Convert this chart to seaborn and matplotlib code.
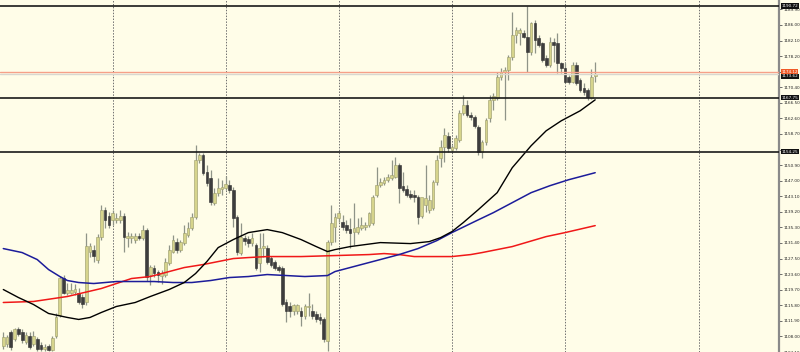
import matplotlib
matplotlib.use("Agg")
import matplotlib.pyplot as plt
import matplotlib.transforms as mtransforms
import seaborn as sns

# candle data, oldest first
opens = [1105.50, 1106.00, 1109.00, 1107.25, 1109.75, 1109.00, 1106.50, 1108.00, 1106.00, 1107.25,
         1105.75, 1104.75, 1105.50, 1104.50, 1108.00, 1113.25, 1122.75, 1119.00, 1119.00, 1119.25,
         1119.00, 1117.75, 1116.50, 1129.25, 1129.75, 1127.25, 1133.00, 1139.75, 1138.25, 1137.25,
         1137.25, 1137.25, 1138.25, 1132.75, 1132.75, 1132.25, 1133.00, 1132.75, 1134.75, 1123.50,
         1125.25, 1124.25, 1123.25, 1123.50, 1126.50, 1129.25, 1131.75, 1129.75, 1131.50, 1133.50,
         1135.25, 1138.00, 1152.25, 1153.50, 1149.25, 1147.75, 1141.50, 1144.00, 1145.00, 1145.25,
         1146.00, 1144.75, 1138.00, 1129.00, 1132.75, 1132.50, 1131.50, 1131.00, 1126.50, 1130.25,
         1130.25, 1127.75, 1126.75, 1125.50, 1125.25, 1116.50, 1115.50, 1114.25, 1114.25, 1114.25,
         1113.00, 1115.25, 1114.25, 1113.50, 1112.75, 1112.25, 1106.75, 1131.75, 1135.50, 1137.75,
         1136.75, 1136.00, 1135.00, 1134.25, 1134.25, 1135.25, 1135.50, 1136.00, 1136.50, 1143.50,
         1146.00, 1146.50, 1147.25, 1147.75, 1148.00, 1151.00, 1145.75, 1145.00, 1143.75, 1143.25,
         1143.00, 1138.25, 1141.00, 1139.75, 1140.25, 1146.75, 1152.75, 1155.50, 1158.25, 1154.75,
         1155.25, 1157.25, 1164.00, 1166.00, 1163.50, 1163.00, 1160.50, 1154.25, 1156.75, 1162.75,
         1167.25, 1167.75, 1173.00, 1174.25, 1174.75, 1178.00, 1183.50, 1184.00, 1184.00, 1183.00,
         1179.25, 1186.50, 1182.75, 1181.50, 1177.75, 1176.00, 1181.75, 1181.50, 1176.50, 1175.25,
         1173.00, 1171.75, 1176.00, 1172.25, 1170.25, 1169.75, 1167.75, 1173.25]
highs = [1109.00, 1108.25, 1109.50, 1110.00, 1110.25, 1109.75, 1109.00, 1109.00, 1109.25, 1107.75,
         1106.50, 1106.00, 1106.00, 1108.00, 1113.75, 1123.25, 1123.50, 1121.50, 1121.50, 1121.25,
         1120.25, 1118.50, 1134.00, 1131.50, 1131.00, 1133.75, 1141.00, 1140.50, 1139.25, 1139.75,
         1139.00, 1139.75, 1139.00, 1134.25, 1134.00, 1134.00, 1134.00, 1136.00, 1135.25, 1126.00,
         1126.00, 1124.75, 1124.75, 1127.75, 1131.00, 1133.50, 1132.75, 1132.25, 1136.00, 1136.75,
         1139.00, 1156.00, 1154.00, 1154.00, 1151.00, 1149.75, 1145.25, 1147.75, 1147.25, 1148.25,
         1147.25, 1145.50, 1138.50, 1136.50, 1133.50, 1133.25, 1134.00, 1131.50, 1134.00, 1134.00,
         1131.00, 1128.25, 1127.25, 1126.00, 1125.75, 1117.25, 1116.50, 1116.00, 1116.00, 1115.25,
         1116.00, 1119.00, 1116.00, 1114.25, 1113.75, 1112.75, 1132.25, 1141.00, 1139.00, 1139.75,
         1138.50, 1137.25, 1137.75, 1141.50, 1137.75, 1138.00, 1136.75, 1139.25, 1143.50, 1150.50,
         1147.75, 1148.00, 1148.75, 1152.25, 1153.00, 1151.50, 1149.25, 1146.00, 1144.75, 1144.75,
         1143.50, 1142.25, 1151.00, 1143.50, 1147.25, 1153.50, 1157.25, 1160.25, 1159.25, 1156.00,
         1158.50, 1164.75, 1168.50, 1167.25, 1164.25, 1163.50, 1161.00, 1157.25, 1162.75, 1168.50,
         1169.00, 1174.25, 1175.25, 1175.50, 1178.50, 1189.25, 1185.50, 1185.25, 1184.75, 1190.72,
         1186.75, 1187.25, 1183.50, 1181.75, 1178.50, 1183.00, 1182.75, 1184.00, 1176.75, 1176.50,
         1173.50, 1176.75, 1176.75, 1172.75, 1171.50, 1170.25, 1175.00, 1176.75]
lows = [1104.75, 1105.25, 1104.50, 1106.75, 1108.00, 1106.25, 1106.00, 1104.75, 1105.50, 1104.25,
        1104.25, 1104.25, 1104.25, 1104.25, 1107.50, 1112.75, 1118.50, 1118.25, 1118.50, 1118.25,
        1116.00, 1115.00, 1115.75, 1128.00, 1126.75, 1126.50, 1132.25, 1135.25, 1135.25, 1136.00,
        1136.50, 1136.50, 1129.25, 1130.50, 1131.50, 1131.50, 1132.25, 1132.25, 1122.00, 1121.00,
        1123.00, 1121.75, 1121.25, 1123.00, 1126.00, 1129.00, 1129.00, 1129.25, 1131.00, 1133.00,
        1134.75, 1137.50, 1151.50, 1148.50, 1145.75, 1141.00, 1141.00, 1143.25, 1143.50, 1144.75,
        1144.00, 1135.50, 1128.50, 1128.50, 1131.00, 1130.50, 1130.75, 1124.75, 1124.25, 1128.00,
        1126.25, 1125.50, 1124.75, 1124.25, 1115.50, 1111.50, 1112.75, 1113.25, 1113.50, 1110.50,
        1112.25, 1113.00, 1112.25, 1111.50, 1111.00, 1106.50, 1104.25, 1131.00, 1131.75, 1136.75,
        1134.75, 1134.00, 1130.25, 1131.00, 1133.75, 1134.75, 1134.75, 1135.50, 1136.00, 1143.00,
        1145.50, 1146.00, 1146.75, 1147.25, 1147.75, 1141.50, 1144.25, 1143.00, 1142.50, 1141.75,
        1136.25, 1137.75, 1139.25, 1139.00, 1139.75, 1146.00, 1150.50, 1151.75, 1154.25, 1154.25,
        1154.75, 1156.75, 1163.50, 1163.00, 1162.25, 1160.25, 1153.50, 1152.75, 1156.00, 1161.75,
        1164.75, 1167.25, 1172.25, 1162.25, 1172.25, 1177.25, 1181.50, 1181.00, 1182.75, 1174.25,
        1178.50, 1179.00, 1180.50, 1176.75, 1175.50, 1175.50, 1176.75, 1174.00, 1174.00, 1171.50,
        1171.25, 1171.50, 1171.00, 1169.25, 1168.50, 1167.25, 1167.50, 1171.75]
closes = [1107.75, 1107.75, 1105.25, 1109.75, 1108.50, 1107.00, 1108.25, 1105.25, 1108.00, 1104.75,
          1104.75, 1105.25, 1104.50, 1107.50, 1112.75, 1122.75, 1119.00, 1119.75, 1119.75, 1120.00,
          1116.50, 1116.00, 1130.75, 1130.75, 1128.25, 1133.00, 1139.75, 1137.25, 1136.00, 1139.00,
          1137.75, 1138.25, 1133.00, 1133.25, 1133.25, 1133.25, 1132.75, 1134.75, 1123.00, 1125.50,
          1124.00, 1123.50, 1124.00, 1126.75, 1129.75, 1132.25, 1129.75, 1131.75, 1134.00, 1135.25,
          1138.00, 1152.25, 1153.50, 1149.00, 1146.50, 1141.75, 1144.00, 1145.25, 1145.50, 1146.25,
          1144.75, 1137.75, 1129.25, 1133.00, 1132.00, 1131.50, 1132.75, 1125.25, 1130.25, 1130.75,
          1126.75, 1126.00, 1125.25, 1124.75, 1116.00, 1114.25, 1114.25, 1115.75, 1115.75, 1113.00,
          1115.50, 1115.50, 1113.00, 1112.25, 1112.00, 1107.25, 1131.75, 1136.50, 1138.00, 1139.00,
          1135.50, 1134.75, 1134.00, 1135.25, 1135.50, 1136.00, 1136.00, 1139.00, 1143.00, 1146.00,
          1146.75, 1147.25, 1148.00, 1148.50, 1151.00, 1145.25, 1144.75, 1143.50, 1143.00, 1143.00,
          1138.00, 1143.00, 1142.75, 1142.25, 1146.75, 1152.25, 1155.50, 1158.50, 1155.25, 1155.50,
          1157.75, 1164.00, 1166.00, 1163.50, 1163.00, 1160.75, 1154.25, 1156.75, 1162.25, 1167.25,
          1168.25, 1173.00, 1174.25, 1174.75, 1178.00, 1183.50, 1184.75, 1184.75, 1183.00, 1179.25,
          1186.50, 1182.25, 1181.00, 1177.25, 1176.00, 1181.75, 1181.00, 1176.50, 1175.25, 1171.75,
          1171.75, 1176.00, 1171.50, 1169.75, 1169.25, 1168.00, 1173.00, 1173.62]

# moving averages (bar index, price)
fast_idx = [0, 4, 8, 12, 17, 20, 23, 26, 30, 35, 39, 44, 48, 51, 54, 57, 61, 65, 70, 74,
            79, 83, 86, 88, 92, 100, 108, 113, 116, 119, 122, 126, 131, 135, 140, 144, 148, 153, 157]
fast_ma = [1119.75, 1117.75, 1116.00, 1113.75, 1112.75, 1112.25, 1112.75, 1114.00, 1115.50, 1116.50,
           1118.00, 1119.75, 1121.50, 1123.75, 1126.75, 1130.25, 1132.25, 1134.00, 1134.75, 1134.00,
           1132.25, 1130.50, 1129.25, 1129.75, 1130.50, 1131.50, 1131.25, 1131.75, 1132.75, 1134.25,
           1136.50, 1139.75, 1144.00, 1150.25, 1155.75, 1159.50, 1162.00, 1164.50, 1167.25]
mid_idx = [0, 5, 9, 12, 15, 17, 20, 24, 30, 40, 45, 50, 55, 60, 65, 70, 75, 80, 86, 88,
           90, 95, 100, 105, 110, 115, 119, 125, 130, 135, 140, 145, 150, 157]
mid_ma = [1130.00, 1129.00, 1127.25, 1124.75, 1123.00, 1122.00, 1121.50, 1121.25, 1121.75, 1121.75,
          1121.50, 1121.50, 1122.00, 1122.75, 1123.00, 1123.50, 1123.25, 1123.00, 1123.25, 1124.25,
          1124.75, 1126.00, 1127.25, 1128.50, 1130.00, 1132.00, 1134.00, 1136.75, 1139.00, 1141.50,
          1144.00, 1145.75, 1147.25, 1149.00]
slow_idx = [0, 8, 17, 26, 34, 39, 44, 48, 53, 57, 61, 65, 70, 79, 88, 97, 101, 105, 109, 119,
            124, 127, 135, 144, 149, 157]
slow_ma = [1116.50, 1116.75, 1118.00, 1120.00, 1122.50, 1123.00, 1124.25, 1125.25, 1126.00, 1126.75,
           1127.50, 1127.75, 1128.00, 1128.00, 1128.25, 1128.50, 1128.75, 1128.50, 1128.00, 1128.00,
           1128.50, 1129.00, 1130.50, 1133.00, 1134.00, 1135.75]

levels = [1190.72, 1167.75, 1154.25]
level_labels = ["1190.72", "1167.75", "1154.25"]
bid, ask = 1173.62, 1174.12
price_ticks = [1104.10, 1108.00, 1111.90, 1115.80, 1119.70, 1123.60, 1127.50, 1131.40,
               1135.30, 1139.20, 1143.10, 1147.00, 1150.90, 1154.80, 1158.70, 1162.60,
               1166.50, 1170.40, 1174.30, 1178.20, 1182.10, 1186.00, 1189.90]
hidden_ticks = [1154.80, 1174.30]  # covered by the price boxes on the chart
grid_at = [29, 59, 89, 119, 149, 184.5]

bg = "#fffde8"
sns.set_style("white", {"axes.facecolor": bg, "figure.facecolor": bg})

fig = plt.figure(figsize=(8, 3.52), dpi=100)
ax = fig.add_axes([0, 0, 779 / 800, 1])

n = len(opens)
idx = list(range(n))

# wicks then bodies
ax.vlines(idx, lows, highs, color="#8f9488", linewidth=0.9, zorder=2)
bull = [c >= o for o, c in zip(opens, closes)]
bottoms = [min(o, c) for o, c in zip(opens, closes)]
heights = [max(abs(c - o), 0.3) for o, c in zip(opens, closes)]
cols = ["#d6d48c" if b else "#3d3d3d" for b in bull]
edges = ["#9a9a6a" if b else "#2e2e2e" for b in bull]
ax.bar(idx, heights, bottom=bottoms, width=0.72, color=cols, edgecolor=edges,
       linewidth=0.4, zorder=3)

# moving averages
sns.lineplot(x=slow_idx, y=slow_ma, ax=ax, color="#f01818", linewidth=1.1, zorder=4)
sns.lineplot(x=mid_idx, y=mid_ma, ax=ax, color="#1c1c9a", linewidth=1.1, zorder=4)
sns.lineplot(x=fast_idx, y=fast_ma, ax=ax, color="#000000", linewidth=1.0, zorder=4)

# vertical period separators
for g in grid_at:
    ax.axvline(g, color="#707070", linestyle=(0, (1.5, 1.5)), linewidth=0.7, zorder=1)

# horizontal levels
for lv in levels:
    ax.axhline(lv, color="#1a1a1a", linewidth=1.2, zorder=5)
ax.axhline(ask, color="#f6a088", linewidth=1.0, zorder=5)
ax.axhline(bid, color="#d8d8d0", linewidth=1.0, zorder=5)

ax.set_xlim(-0.875, -0.875 + 779 / 3.77)
ax.set_ylim(1104.25, 1192.25)

# price axis on the right
ax.yaxis.tick_right()
ax.set_yticks(price_ticks)
ax.set_yticklabels(["" if t in hidden_ticks else f"{t:.2f}" for t in price_ticks],
                   fontsize=3.0, color="#222222")
ax.tick_params(axis="y", direction="out", length=2, width=0.6, color="#555555", pad=1)
ax.set_xticks([])
for side in ["top", "left", "bottom"]:
    ax.spines[side].set_visible(False)
ax.spines["right"].set_color("#8a8a8a")
ax.spines["right"].set_linewidth(1.6)

trans = mtransforms.blended_transform_factory(ax.transAxes, ax.transData)
box = dict(boxstyle="square,pad=0.15", facecolor="#111111", edgecolor="none")
for lv, lab in zip(levels, level_labels):
    ax.text(1.003, lv, lab, transform=trans, fontsize=3.0, color="white", va="center",
            ha="left", clip_on=False, zorder=6, bbox=box)
ax.text(1.003, ask + 0.15, f"{ask:.2f}", transform=trans, fontsize=3.0, color="white",
        va="center", ha="left", clip_on=False, zorder=6,
        bbox=dict(box, facecolor="#f05a28"))
ax.text(1.003, bid - 0.45, f"{bid:.2f}", transform=trans, fontsize=3.0, color="white",
        va="center", ha="left", clip_on=False, zorder=7, bbox=box)

fig.savefig("out.png", dpi=100, facecolor=bg)
